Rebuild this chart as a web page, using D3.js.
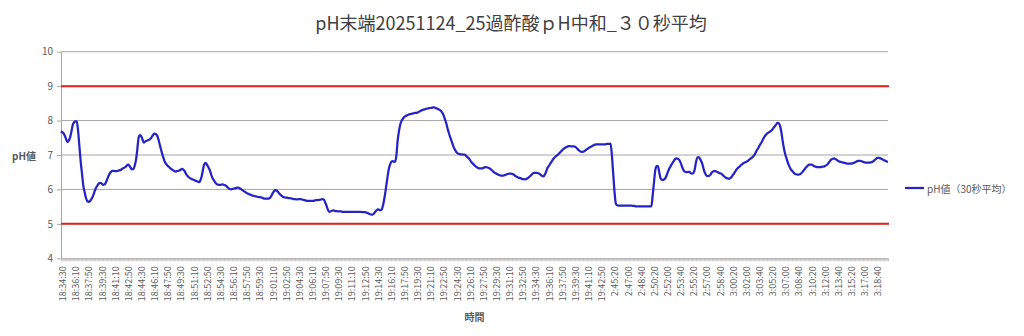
<!DOCTYPE html>
<html>
<head>
<meta charset="utf-8">
<script src="https://cdn.jsdelivr.net/npm/d3@7"></script>
<style>
  body { margin: 0; background: #fff; }
  svg { display: block; font-family: "Noto Sans CJK JP", "Noto Sans", sans-serif; }
</style>
</head>
<body>
<div id="chart"></div>
<script>
const title = "pH末端20251124_25過酢酸ｐH中和_３０秒平均";
const xTitle = "時間";
const yTitle = "pH値";
const seriesName = "pH値（30秒平均）";

// two recording runs, one reading every 10 s
const segmentStarts = ["18:34:30", "2:45:20"];
const segmentLengths = [420, 210];
const yTicks = [4, 5, 6, 7, 8, 9, 10];
const limitValues = [9, 5];

// pH, 30 s moving average (one row = 10 readings)
const phValues = [
  7.69, 7.66, 7.63, 7.55, 7.45, 7.38, 7.42, 7.52, 7.70, 7.88,
  7.95, 7.98, 7.98, 7.70, 7.25, 6.80, 6.45, 6.10, 5.92, 5.75,
  5.66, 5.64, 5.66, 5.71, 5.78, 5.88, 5.99, 6.07, 6.13, 6.18,
  6.19, 6.17, 6.13, 6.14, 6.19, 6.28, 6.38, 6.46, 6.51, 6.54,
  6.54, 6.53, 6.53, 6.54, 6.55, 6.56, 6.58, 6.61, 6.63, 6.65,
  6.69, 6.72, 6.69, 6.63, 6.58, 6.59, 6.68, 6.85, 7.15, 7.50,
  7.58, 7.55, 7.45, 7.36, 7.39, 7.41, 7.43, 7.44, 7.47, 7.52,
  7.58, 7.62, 7.61, 7.57, 7.47, 7.32, 7.17, 7.03, 6.91, 6.80,
  6.74, 6.69, 6.66, 6.62, 6.59, 6.56, 6.54, 6.52, 6.53, 6.54,
  6.55, 6.57, 6.60, 6.58, 6.53, 6.46, 6.40, 6.36, 6.33, 6.31,
  6.29, 6.28, 6.26, 6.24, 6.23, 6.21, 6.26, 6.38, 6.58, 6.73,
  6.77, 6.72, 6.65, 6.58, 6.46, 6.35, 6.28, 6.22, 6.17, 6.14,
  6.13, 6.13, 6.14, 6.15, 6.13, 6.12, 6.09, 6.05, 6.02, 6.00,
  6.01, 6.02, 6.03, 6.04, 6.05, 6.05, 6.03, 6.01, 5.98, 5.95,
  5.93, 5.90, 5.88, 5.86, 5.85, 5.83, 5.82, 5.81, 5.80, 5.79,
  5.78, 5.78, 5.77, 5.76, 5.74, 5.73, 5.73, 5.73, 5.73, 5.76,
  5.81, 5.89, 5.95, 5.98, 5.97, 5.93, 5.88, 5.84, 5.81, 5.78,
  5.77, 5.76, 5.76, 5.75, 5.75, 5.74, 5.73, 5.72, 5.72, 5.71,
  5.71, 5.72, 5.72, 5.71, 5.70, 5.69, 5.68, 5.67, 5.67, 5.67,
  5.67, 5.67, 5.67, 5.68, 5.69, 5.69, 5.70, 5.70, 5.71, 5.72,
  5.70, 5.62, 5.52, 5.41, 5.35, 5.36, 5.38, 5.39, 5.38, 5.37,
  5.37, 5.36, 5.36, 5.36, 5.35, 5.35, 5.35, 5.35, 5.35, 5.35,
  5.35, 5.35, 5.35, 5.35, 5.35, 5.35, 5.35, 5.35, 5.35, 5.34,
  5.34, 5.34, 5.33, 5.32, 5.30, 5.28, 5.27, 5.27, 5.30, 5.35,
  5.39, 5.42, 5.41, 5.40, 5.42, 5.55, 5.75, 6.00, 6.27, 6.53,
  6.69, 6.79, 6.82, 6.81, 6.80, 6.95, 7.40, 7.68, 7.88, 7.99,
  8.05, 8.10, 8.13, 8.15, 8.17, 8.18, 8.19, 8.20, 8.21, 8.22,
  8.22, 8.23, 8.25, 8.27, 8.29, 8.31, 8.32, 8.33, 8.35, 8.35,
  8.36, 8.37, 8.37, 8.38, 8.38, 8.36, 8.35, 8.33, 8.31, 8.28,
  8.23, 8.15, 8.04, 7.93, 7.77, 7.64, 7.52, 7.41, 7.30, 7.20,
  7.13, 7.07, 7.04, 7.03, 7.02, 7.02, 7.01, 7.01, 6.98, 6.94,
  6.91, 6.86, 6.80, 6.76, 6.72, 6.68, 6.65, 6.63, 6.61, 6.61,
  6.61, 6.62, 6.64, 6.65, 6.64, 6.63, 6.61, 6.58, 6.55, 6.51,
  6.48, 6.46, 6.44, 6.42, 6.41, 6.40, 6.40, 6.41, 6.42, 6.44,
  6.45, 6.46, 6.46, 6.45, 6.44, 6.41, 6.38, 6.36, 6.34, 6.33,
  6.32, 6.30, 6.30, 6.29, 6.30, 6.33, 6.36, 6.39, 6.43, 6.47,
  6.48, 6.48, 6.48, 6.47, 6.45, 6.42, 6.39, 6.38, 6.43, 6.52,
  6.62, 6.68, 6.74, 6.80, 6.86, 6.91, 6.95, 6.98, 7.01, 7.05,
  7.09, 7.13, 7.17, 7.20, 7.22, 7.24, 7.26, 7.26, 7.25, 7.25,
  7.25, 7.24, 7.21, 7.17, 7.13, 7.10, 7.09, 7.09, 7.11, 7.14,
  7.17, 7.19, 7.22, 7.24, 7.26, 7.28, 7.30, 7.31, 7.31, 7.31,
  7.31, 7.31, 7.31, 7.31, 7.31, 7.32, 7.32, 7.32, 7.33, 6.99,
  6.46, 5.93, 5.59, 5.54, 5.53, 5.53, 5.53, 5.53, 5.53, 5.53,
  5.53, 5.53, 5.53, 5.53, 5.53, 5.52, 5.52, 5.51, 5.51, 5.51,
  5.51, 5.51, 5.51, 5.51, 5.51, 5.51, 5.51, 5.51, 5.51, 5.51,
  5.82, 6.20, 6.56, 6.68, 6.68, 6.50, 6.33, 6.28, 6.28, 6.30,
  6.35, 6.45, 6.55, 6.63, 6.70, 6.76, 6.82, 6.88, 6.90, 6.89,
  6.87, 6.80, 6.70, 6.60, 6.53, 6.51, 6.50, 6.51, 6.51, 6.47,
  6.46, 6.48, 6.58, 6.80, 6.93, 6.94, 6.89, 6.82, 6.71, 6.56,
  6.46, 6.40, 6.39, 6.40, 6.43, 6.49, 6.52, 6.54, 6.53, 6.51,
  6.49, 6.47, 6.46, 6.43, 6.39, 6.36, 6.33, 6.32, 6.31, 6.33,
  6.36, 6.42, 6.47, 6.53, 6.59, 6.63, 6.66, 6.70, 6.73, 6.76,
  6.78, 6.80, 6.82, 6.85, 6.88, 6.91, 6.94, 6.98, 7.04, 7.12,
  7.18, 7.25, 7.32, 7.38, 7.46, 7.53, 7.58, 7.62, 7.65, 7.67,
  7.70, 7.74, 7.79, 7.84, 7.89, 7.93, 7.92, 7.83, 7.64, 7.38,
  7.16, 7.00, 6.88, 6.76, 6.67, 6.59, 6.54, 6.50, 6.46, 6.44,
  6.43, 6.43, 6.44, 6.47, 6.51, 6.56, 6.61, 6.65, 6.69, 6.72,
  6.72, 6.72, 6.70, 6.67, 6.66, 6.65, 6.65, 6.65, 6.65, 6.66,
  6.66, 6.68, 6.70, 6.73, 6.78, 6.83, 6.87, 6.89, 6.90, 6.88,
  6.86, 6.83, 6.81, 6.80, 6.79, 6.78, 6.77, 6.76, 6.75, 6.75,
  6.75, 6.75, 6.76, 6.77, 6.79, 6.81, 6.83, 6.83, 6.83, 6.82,
  6.80, 6.79, 6.78, 6.78, 6.78, 6.78, 6.79, 6.80, 6.82, 6.86,
  6.89, 6.92, 6.92, 6.91, 6.89, 6.87, 6.85, 6.83, 6.81, 6.80
];

// category labels: h:mm:ss every 10 s within each run
const times = [];
segmentStarts.forEach((s, k) => {
  const [h, m, sec] = s.split(":").map(Number);
  const base = h * 3600 + m * 60 + sec;
  for (let j = 0; j < segmentLengths[k]; j++) {
    const t = base + j * 10;
    const hh = Math.floor(t / 3600) % 24;
    const mm = String(Math.floor(t / 60) % 60).padStart(2, "0");
    const ss = String(t % 60).padStart(2, "0");
    times.push(`${hh}:${mm}:${ss}`);
  }
});
const data = times.map((t, i) => ({ t: t, v: phValues[i] }));

const W = 1024, H = 336;
const plot = { left: 61, right: 888, top: 51.7, bottom: 258.3 };
const axisGray = "#a6a6a6";
const textGray = "#595959";

const svg = d3.select("#chart").append("svg")
  .attr("width", W)
  .attr("height", H);

const x = d3.scalePoint()
  .domain(times)
  .range([plot.left, plot.right]);

const y = d3.scaleLinear()
  .domain([4, 10])
  .range([plot.bottom, plot.top]);

// title
svg.append("text")
  .attr("x", 511)
  .attr("y", 22)
  .attr("text-anchor", "middle")
  .attr("dominant-baseline", "central")
  .attr("font-size", 18)
  .attr("fill", "#404040")
  .text(title);

// gridlines
svg.append("g")
  .selectAll("line")
  .data(yTicks.filter(d => d > 4))
  .join("line")
  .attr("x1", plot.left)
  .attr("x2", plot.right)
  .attr("y1", d => y(d))
  .attr("y2", d => y(d))
  .attr("stroke", axisGray)
  .attr("stroke-width", 1);

// y axis
const yAxis = svg.append("g")
  .attr("transform", `translate(${plot.left},0)`)
  .call(d3.axisLeft(y).tickValues(yTicks).tickFormat(d3.format("d"))
    .tickSize(4).tickSizeOuter(0).tickPadding(4));
yAxis.select(".domain").attr("stroke", axisGray);
yAxis.selectAll(".tick line").attr("stroke", axisGray);
yAxis.selectAll("text")
  .attr("font-size", 10)
  .attr("fill", textGray)
  .attr("font-family", "Noto Sans CJK JP");

// x axis: tick on every reading, label every 10th
const xAxis = svg.append("g")
  .attr("transform", `translate(0,${plot.bottom})`)
  .call(d3.axisBottom(x).tickSize(3).tickSizeOuter(0)
    .tickFormat((d, i) => i % 10 === 0 ? d : ""));
xAxis.select(".domain").attr("stroke", axisGray);
xAxis.selectAll(".tick line").attr("stroke", axisGray).attr("stroke-width", 0.6);
xAxis.selectAll("text")
  .attr("transform", "rotate(-90)")
  .attr("x", -8)
  .attr("y", 1.5)
  .attr("dy", "0.35em")
  .attr("text-anchor", "end")
  .attr("font-size", 9)
  .attr("fill", textGray)
  .attr("font-family", "Noto Sans CJK JP");

// limit lines
svg.append("g")
  .selectAll("line")
  .data(limitValues)
  .join("line")
  .attr("x1", plot.left)
  .attr("x2", plot.right + 1)
  .attr("y1", d => y(d))
  .attr("y2", d => y(d))
  .attr("stroke", "#e0201c")
  .attr("stroke-width", 2);

// series
const line = d3.line()
  .x(d => x(d.t))
  .y(d => y(d.v))
  .curve(d3.curveMonotoneX);

svg.append("path")
  .datum(data)
  .attr("d", line)
  .attr("fill", "none")
  .attr("stroke", "#2424c4")
  .attr("stroke-width", 2.25)
  .attr("stroke-linejoin", "round");

// axis titles
svg.append("text")
  .attr("x", 24)
  .attr("y", (plot.top + plot.bottom) / 2)
  .attr("text-anchor", "middle")
  .attr("dominant-baseline", "central")
  .attr("font-size", 10)
  .attr("font-weight", "bold")
  .attr("fill", textGray)
  .text(yTitle);

svg.append("text")
  .attr("x", (plot.left + plot.right) / 2)
  .attr("y", 316)
  .attr("text-anchor", "middle")
  .attr("dominant-baseline", "central")
  .attr("font-size", 10)
  .attr("font-weight", "bold")
  .attr("fill", textGray)
  .text(xTitle);

// legend
const legend = svg.append("g").attr("transform", "translate(905,188)");
legend.append("line")
  .attr("x1", 0).attr("x2", 19)
  .attr("stroke", "#2424c4")
  .attr("stroke-width", 2.25);
legend.append("text")
  .attr("x", 22)
  .attr("dominant-baseline", "central")
  .attr("font-size", 10)
  .attr("fill", textGray)
  .text(seriesName);
</script>
</body>
</html>
